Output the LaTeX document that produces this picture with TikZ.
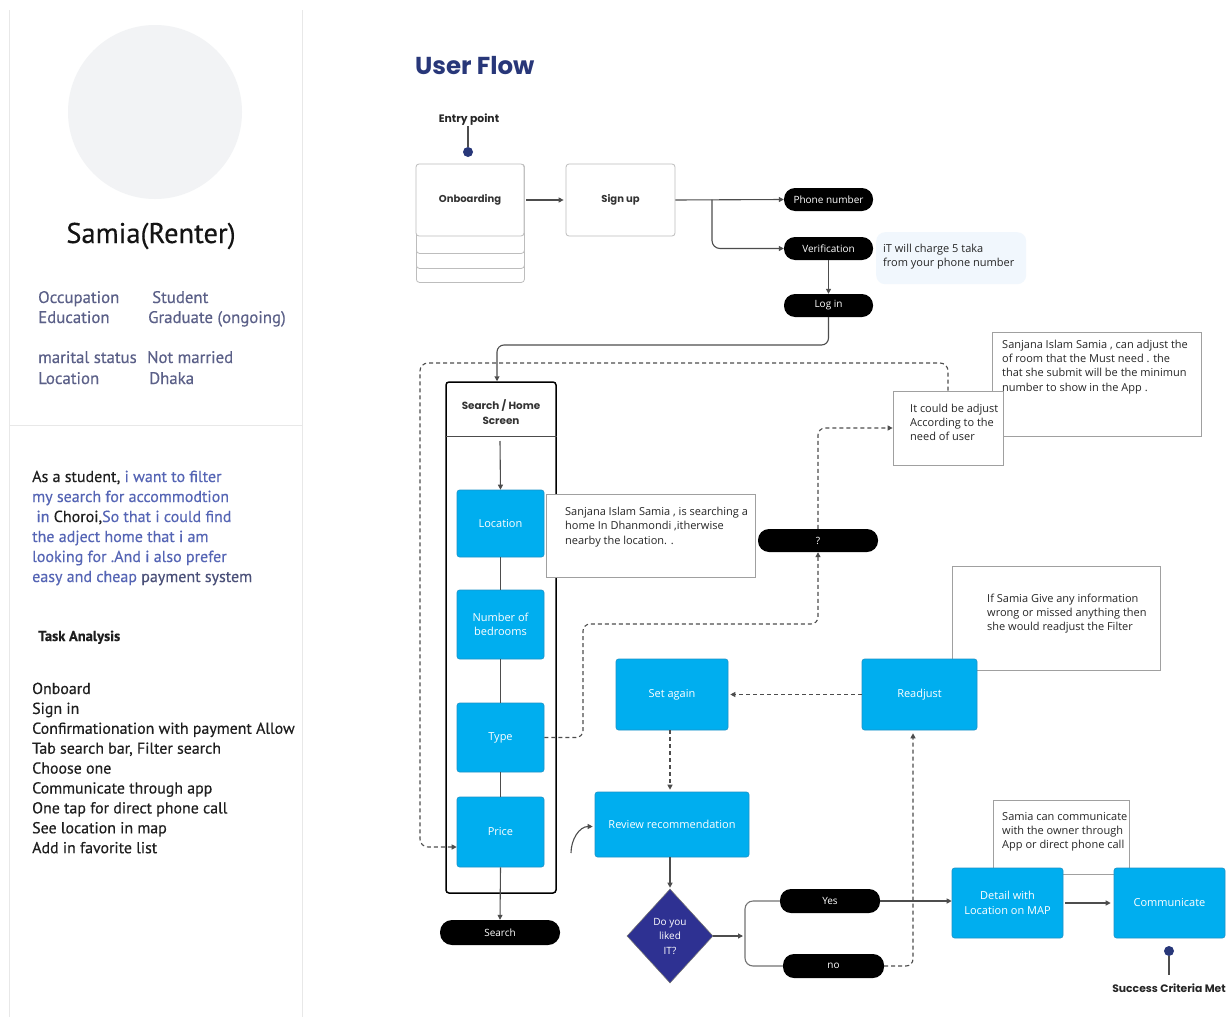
\documentclass[tikz,border=0pt]{standalone}
\usepackage{fontspec}
\setmainfont{Open Sans}
\newfontfamily\panelfont{PT Sans}[FakeBold=0.35]
\newfontfamily\headfont{Poppins}
\usetikzlibrary{shapes.geometric,arrows.meta,calc}

\definecolor{flowcyan}{HTML}{00AEEF}
\definecolor{flowcyanedge}{HTML}{1C93C8}
\definecolor{navy}{HTML}{283779}
\definecolor{diamondblue}{HTML}{2E3192}
\definecolor{slate}{HTML}{5B6088}
\definecolor{storyblue}{HTML}{5565B5}
\definecolor{storydark}{HTML}{4A5078}
\definecolor{notebg}{HTML}{F1F7FD}
\definecolor{notegray}{HTML}{A0A0A0}
\definecolor{cardgray}{HTML}{BDBDBD}
\definecolor{linegray}{HTML}{4D4D4D}
\definecolor{avatargray}{HTML}{F2F3F5}
\definecolor{panelline}{HTML}{E8E8E8}

\tikzset{
  cyanbox/.style={rectangle, rounded corners=2.5, fill=flowcyan, draw=flowcyanedge,
    line width=0.6, text=white, font=\fontsize{11}{14.5}\selectfont, align=center, inner sep=0},
  pillbox/.style={rectangle, rounded corners=11, fill=black, text=white,
    font=\fontsize{10}{12}\selectfont, inner sep=0, minimum height=23},
  notebox/.style={rectangle, draw=notegray, line width=0.8, fill=white, inner sep=0},
  notetext/.style={anchor=base west, inner sep=0, font=\fontsize{11}{13}\selectfont, text=black!85},
  cardbox/.style={rectangle, rounded corners=3, draw=cardgray, line width=0.8, fill=white, inner sep=0},
  cardlabel/.style={font=\headfont\bfseries\fontsize{10}{13}\selectfont, text=black!80, align=center},
  conn/.style={draw=linegray, line width=1.1},
  arrowed/.style={-{Triangle[length=5,width=5]}},
  dashconn/.style={draw=linegray, line width=1.1, dash pattern=on 4pt off 3pt},
  paneltext/.style={anchor=base west, inner sep=0, font=\panelfont\fontsize{16.8}{19}\selectfont, text=slate},
  storytext/.style={anchor=base west, inner sep=0, font=\panelfont\fontsize{16}{18}\selectfont, text=storyblue},
  tasktext/.style={anchor=base west, inner sep=0, font=\panelfont\fontsize{15.9}{18}\selectfont, text=black!88},
}

\begin{document}
\begin{tikzpicture}[x=1pt,y=-1pt]
\fill[white] (0,0) rectangle (1232,1017);
\useasboundingbox (0,0) rectangle (1232,1017);

% ---------------- persona panel ----------------
\draw[panelline, line width=1] (9,10) -- (9,1017);
\draw[panelline, line width=1] (302,10) -- (302,1017);
\draw[panelline, line width=1] (9,425) -- (302,425);

\node[circle, fill=avatargray, minimum size=174, inner sep=0] (avatar) at (155,112) {};
\node[anchor=base, inner sep=0, font=\panelfont\fontsize{28.5}{32}\selectfont, text=black!92] (persona) at (151,243) {Samia(Renter)};

\node[paneltext] (occk) at (38,303) {Occupation};
\node[paneltext] (occv) at (152,303) {Student};
\node[paneltext] (eduk) at (38,323) {Education};
\node[paneltext] (eduv) at (148,323) {Graduate (ongoing)};
\node[paneltext] (mark) at (38,363) {marital status};
\node[paneltext] (marv) at (147,363) {Not married};
\node[paneltext] (lock) at (38,384) {Location};
\node[paneltext] (locv) at (149,384) {Dhaka};

\node[storytext] (story1) at (32,482) {\textcolor{black!88}{As a student,} i want to filter};
\node[storytext] (story2) at (32,502) {my search for accommodtion};
\node[storytext] (story3) at (32,522) {\ in \textcolor{black!88}{Choroi,}So that i could find};
\node[storytext] (story4) at (32,542) {the adject home that i am};
\node[storytext] (story5) at (32,562) {looking for .And i also prefer};
\node[storytext] (story6) at (32,582) {easy and cheap \textcolor{storydark}{payment system}};

\node[anchor=base west, inner sep=0, font=\panelfont\bfseries\fontsize{14.5}{17}\selectfont, text=black!88] (taskhead) at (38,641) {Task Analysis};

\foreach \t [count=\i] in {Onboard,Sign in,Confirmationation with payment Allow,{Tab search bar, Filter search},Choose one,Communicate through app,One tap for direct phone call,See location in map,Add in favorite list}
  \node[tasktext] (task\i) at (32,{694+19.9*(\i-1)}) {\t};

% ---------------- user flow ----------------
\node[anchor=base west, inner sep=0, font=\headfont\bfseries\fontsize{24.5}{28}\selectfont, text=navy] (title) at (415,74) {User Flow};

\node[anchor=base, inner sep=0, font=\headfont\bfseries\fontsize{10.8}{13}\selectfont, text=black!85] (entrylabel) at (469,122) {Entry point};
\coordinate (entrytop) at (468,126);
\node[circle, fill=navy, minimum size=10, inner sep=0] (entrydot) at (468,152) {};
\draw[conn] (entrytop) -- (entrydot);

% onboarding card with stacked pages
\node[cardbox, minimum width=108, minimum height=118, anchor=north west] (page3) at (416,164) {};
\node[cardbox, minimum width=108, minimum height=104, anchor=north west] (page2) at (416,164) {};
\node[cardbox, minimum width=108, minimum height=89, anchor=north west] (page1) at (416,164) {};
\node[cardbox, cardlabel, minimum width=108, minimum height=72] (onboard) at (470,200) {Onboarding};
\node[cardbox, cardlabel, minimum width=109, minimum height=72] (signup) at (620.5,200) {Sign up};

\node[pillbox, minimum width=89] (phone) at (828.5,199.5) {Phone number};
\node[pillbox, minimum width=89] (verify) at (828.5,248.5) {Verification};
\node[pillbox, minimum width=89] (login) at (828.5,305.5) {Log in};

\node[rectangle, rounded corners=9, fill=notebg, minimum width=150, minimum height=52, anchor=north west, inner sep=0] (chargenote) at (876,232) {};
\node[notetext] (charge1) at (883,252) {iT will charge 5 taka};
\node[notetext] (charge2) at (883,266) {from your phone number};

\draw[conn, arrowed, shorten <=2, shorten >=2] (onboard.east) -- (signup.west);
\draw[conn, arrowed] (signup.east) -- (phone.west);
\coordinate (branch) at (712,199.5);
\draw[conn, arrowed, rounded corners=8] (branch) |- (verify.west);
\draw[conn, arrowed] (verify.south) -- (login.north);

% search / home screen column
\node[rectangle, rounded corners=3, draw=black, line width=1.5, minimum width=110, minimum height=511, inner sep=0] (screen) at (501,637.5) {};
\draw[black!70, line width=1] ($(screen.north west)+(0,55)$) -- ($(screen.north east)+(0,55)$);
\node[cardlabel, font=\headfont\bfseries\fontsize{10.4}{14.5}\selectfont] (screenhead) at (501,412) {Search / Home\\Screen};

\coordinate (loopin) at (497,345);
\draw[conn, arrowed, rounded corners=7] (login.south) |- (loopin) -- (loopin |- screen.north);

\node[cyanbox, minimum width=87, minimum height=67] (loc) at (500.5,523.5) {Location};
\node[cyanbox, minimum width=87, minimum height=69] (beds) at (500.5,624.5) {Number of\\bedrooms};
\node[cyanbox, minimum width=87, minimum height=69] (type) at (500.5,737.5) {Type};
\node[cyanbox, minimum width=87, minimum height=70] (price) at (500.5,832) {Price};
\node[pillbox, minimum width=120, minimum height=25, rounded corners=12] (searchbtn) at (500,932.5) {Search};

\coordinate (hdrbottom) at (500,441);
\draw[conn, arrowed] (hdrbottom) -- (loc.north);
\draw[conn] (loc.south) -- (beds.north);
\draw[conn] (beds.south) -- (type.north);
\draw[conn] (type.south) -- (price.north);
\draw[conn, arrowed] (price.south) -- (searchbtn.north);

% note beside location
\node[notebox, minimum width=209, minimum height=83, anchor=north west] (note1) at (546,494) {};
\foreach \l [count=\i] in {{Sanjana Islam Samia , is searching a},{home In Dhanmondi ,itherwise},{nearby the location. .}}
  \node[notetext] (note1l\i) at (565,{515+14.5*(\i-1)}) {\l};

\node[pillbox, minimum width=120] (qpill) at (818,540.5) {?};

% adjustment notes
\node[notebox, minimum width=209, minimum height=104, anchor=north west] (note2) at (992,332) {};
\foreach \l [count=\i] in {{Sanjana Islam Samia , can adjust the},{of room that the Must need . the},{that she submit will be the minimun},{number to show in the App .}}
  \node[notetext] (note2l\i) at (1002,{348+14.4*(\i-1)}) {\l};
\node[notebox, minimum width=110, minimum height=74] (adjust) at (948,428) {};
\foreach \l [count=\i] in {{It could be adjust},{According to the},{need of user}}
  \node[notetext] (adjustl\i) at (910,{412+14*(\i-1)}) {\l};

% readjust loop
\node[notebox, minimum width=208, minimum height=104, anchor=north west] (note3) at (952,566) {};
\foreach \l [count=\i] in {{If Samia Give any information},{wrong or missed anything then},{she would readjust the Filter}}
  \node[notetext] (note3l\i) at (987,{602+14*(\i-1)}) {\l};
\node[cyanbox, minimum width=115, minimum height=71] (readjust) at (919.5,694.5) {Readjust};
\node[cyanbox, minimum width=112, minimum height=71] (setagain) at (672,694.5) {Set again};
\node[cyanbox, minimum width=154, minimum height=65] (review) at (672,824.5) {Review recommendation};

\node[diamond, fill=diamondblue, draw=black!55, line width=0.6, minimum width=86, minimum height=94, inner sep=0,
  text=white, align=center, font=\fontsize{10}{14.5}\selectfont] (liked) at (670,936) {Do you\\liked\\IT?};

\node[pillbox, minimum width=100, minimum height=24] (yes) at (830,901) {Yes};
\node[pillbox, minimum width=101, minimum height=24] (no) at (833.5,966) {no};

% detail and communication
\node[notebox, minimum width=136, minimum height=74, anchor=north west] (note4) at (993,800) {};
\foreach \l [count=\i] in {{Samia can communicate},{with the owner through},{App or direct phone call}}
  \node[notetext] (note4l\i) at (1002,{820+14*(\i-1)}) {\l};
\node[cyanbox, minimum width=111, minimum height=70] (detail) at (1007.5,903) {Detail with\\Location on MAP};
\node[cyanbox, minimum width=111, minimum height=70] (communicate) at (1169.5,903) {Communicate};

\node[circle, fill=navy, minimum size=10, inner sep=0] (successdot) at (1169,951) {};
\coordinate (successend) at (1169,975);
\draw[conn] (successdot) -- (successend);
\node[anchor=base, inner sep=0, font=\headfont\bfseries\fontsize{10.8}{13}\selectfont, text=black!85] (successlabel) at (1169,992) {Success Criteria Met};

% ---------------- connectors ----------------
\coordinate (bendA) at (583,624);
\draw[dashconn, arrowed, rounded corners=7] (type.east) -| (bendA) -| (qpill.south);
\draw[dashconn, arrowed, rounded corners=7] (qpill.north) |- (adjust.west);

\coordinate (loopTL) at (420,363);
\coordinate (priceIn) at ($(price.west)+(0,15)$);
\draw[dashconn, arrowed, rounded corners=8] (adjust.north) |- (loopTL) |- (priceIn);

\draw[dashconn, arrowed, shorten >=2] (readjust.west) -- (setagain.east);
\draw[dashconn, arrowed, shorten >=2] (setagain.south -| liked.north) -- (review.north -| liked.north);

\coordinate (curlstart) at (571,853);
\draw[conn, arrowed] (curlstart) to[out=90, in=180] ($(review.west)+(-2,2)$);

\draw[conn, arrowed, shorten >=1] (review.south -| liked.north) -- (liked.north);
\coordinate (fork) at (745,936);
\draw[conn, arrowed, shorten >=2] (liked.east) -- (fork);
\draw[draw=black!55, line width=1.1, rounded corners=8] (yes.west) -| (fork) |- (no.west);

\draw[conn, arrowed] (yes.east) -- (yes.east -| detail.west);
\coordinate (readIn) at ($(readjust.south)+(-6.5,3)$);
\draw[dashconn, arrowed, rounded corners=7] (no.east) -| (readIn);

\draw[conn, arrowed, shorten <=2, shorten >=3] (detail.east) -- (communicate.west);

\end{tikzpicture}
\end{document}
